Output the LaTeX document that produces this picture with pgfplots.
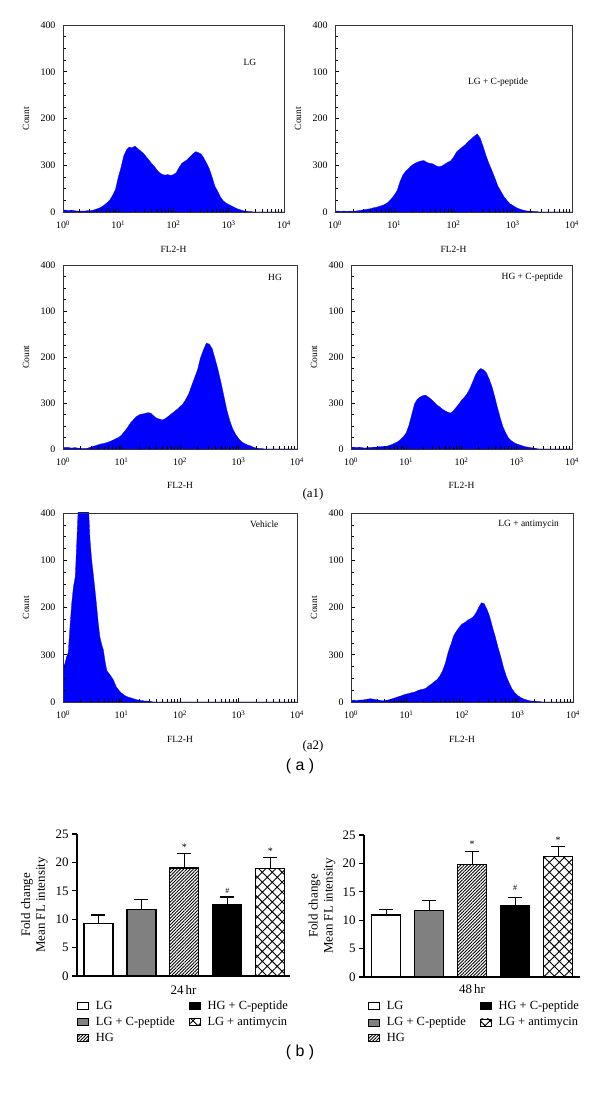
\documentclass[border=0pt]{standalone}
\usepackage{fontspec}
\setmainfont{Liberation Serif}
\newfontfamily\sansf{Liberation Sans}
\usepackage{pgfplots}
\pgfplotsset{compat=1.18}
\usepackage{pgfplotstable}
\usetikzlibrary{patterns.meta}
\definecolor{fcsblue}{RGB}{0,0,255}

% ---------------- histogram data (x = log10 FL2-H, y = count) ----------------
\pgfplotstableread{
x y
0 4
0.05 4
0.1 3
0.15 4
0.2 3
0.25 2
0.3 2
0.35 2
0.4 2
0.45 3
0.5 3
0.55 4
0.6 6
0.65 8
0.7 11
0.75 15
0.8 20
0.85 26
0.9 36
0.95 48
1.0 74
1.05 95
1.1 120
1.15 133
1.2 139
1.25 137
1.3 141
1.35 136
1.4 131
1.45 126
1.5 119
1.55 112
1.6 104
1.65 98
1.7 90
1.75 84
1.8 80
1.85 79
1.9 80
1.95 78
2.0 80
2.05 84
2.1 95
2.15 104
2.2 108
2.25 112
2.3 118
2.35 124
2.4 129
2.45 127
2.5 124
2.55 115
2.6 104
2.65 92
2.7 74
2.75 55
2.8 44
2.85 32
2.9 24
2.95 19
3.0 16
3.05 13
3.1 10
3.15 7
3.2 5
3.25 3
3.3 2
3.35 1
3.4 1
3.45 0
4 0
}\histLG

\pgfplotstableread{
x y
0 2
0.05 2
0.1 1
0.15 2
0.2 1
0.25 2
0.3 1
0.35 2
0.4 3
0.45 4
0.5 5
0.55 6
0.6 7
0.65 9
0.7 10
0.75 12
0.8 14
0.85 17
0.9 21
0.95 28
1.0 36
1.05 46
1.1 66
1.15 80
1.2 88
1.25 94
1.3 100
1.35 104
1.4 107
1.45 109
1.5 110
1.55 106
1.6 104
1.65 103
1.7 99
1.75 97
1.8 98
1.85 102
1.9 106
1.95 109
2.0 117
2.05 128
2.1 134
2.15 139
2.2 144
2.25 151
2.3 156
2.35 162
2.4 167
2.45 158
2.5 140
2.55 120
2.6 103
2.65 88
2.7 72
2.75 55
2.8 44
2.85 33
2.9 25
2.95 18
3.0 14
3.05 10
3.1 7
3.15 5
3.2 3
3.25 2
3.3 2
3.35 1
3.4 1
3.45 0
4 0
}\histLGC

\pgfplotstableread{
x y
0 3
0.05 3
0.1 3
0.15 2
0.2 3
0.25 2
0.3 1
0.35 1
0.4 1
0.45 3
0.5 5
0.55 7
0.6 9
0.65 11
0.7 12
0.75 14
0.8 16
0.85 19
0.9 22
0.95 25
1.0 30
1.05 38
1.1 46
1.15 56
1.2 63
1.25 70
1.3 74
1.35 76
1.4 77
1.45 79
1.5 78
1.55 72
1.6 67
1.65 65
1.7 63
1.75 66
1.8 71
1.85 76
1.9 81
1.95 86
2.0 92
2.05 98
2.1 108
2.15 120
2.2 138
2.25 155
2.3 172
2.35 198
2.4 215
2.45 230
2.5 228
2.55 218
2.6 196
2.65 172
2.7 145
2.75 115
2.8 85
2.85 62
2.9 44
2.95 32
3.0 23
3.05 16
3.1 12
3.15 9
3.2 7
3.25 4
3.3 2
3.35 1
3.4 1
3.45 0
4 0
}\histHG

\pgfplotstableread{
x y
0 4
0.05 4
0.1 3
0.15 4
0.2 3
0.25 2
0.3 3
0.35 3
0.4 4
0.45 4
0.5 5
0.55 5
0.6 6
0.65 6
0.7 8
0.75 10
0.8 13
0.85 16
0.9 21
0.95 27
1.0 35
1.05 52
1.1 75
1.15 98
1.2 108
1.25 113
1.3 116
1.35 117
1.4 113
1.45 108
1.5 102
1.55 96
1.6 92
1.65 87
1.7 83
1.75 80
1.8 78
1.85 82
1.9 90
1.95 97
2.0 106
2.05 112
2.1 120
2.15 131
2.2 145
2.25 160
2.3 170
2.35 175
2.4 172
2.45 166
2.5 152
2.55 136
2.6 114
2.65 90
2.7 68
2.75 48
2.8 35
2.85 24
2.9 18
2.95 14
3.0 11
3.05 9
3.1 7
3.15 5
3.2 4
3.25 3
3.3 2
3.35 1
3.4 0
4 0
}\histHGC

\pgfplotstableread{
x y
0 75
0.03 80
0.06 95
0.09 105
0.12 160
0.15 210
0.18 245
0.21 265
0.24 350
0.27 440
0.3 450
0.35 450
0.4 450
0.43 430
0.46 346
0.49 300
0.51 279
0.54 245
0.57 209
0.6 170
0.63 138
0.66 122
0.69 110
0.72 85
0.75 66
0.8 58
0.86 47
0.91 32
0.96 24
1.0 19
1.05 14
1.1 11
1.15 9
1.2 7
1.25 5
1.3 4
1.35 3
1.4 2
1.45 2
1.5 1
1.55 0
4 0
}\histVeh

\pgfplotstableread{
x y
0 3
0.05 4
0.1 3
0.15 4
0.2 4
0.25 5
0.3 6
0.35 7
0.4 6
0.45 5
0.5 4
0.55 3
0.6 3
0.65 4
0.7 5
0.75 7
0.8 9
0.85 11
0.9 13
0.95 15
1.0 17
1.05 18
1.1 20
1.15 21
1.2 24
1.25 26
1.3 27
1.35 29
1.4 34
1.45 38
1.5 43
1.55 47
1.6 55
1.65 66
1.7 82
1.75 105
1.8 122
1.85 140
1.9 150
1.95 158
2.0 165
2.05 168
2.1 173
2.15 176
2.2 180
2.25 188
2.3 200
2.35 210
2.4 208
2.45 196
2.5 180
2.55 158
2.6 138
2.65 115
2.7 95
2.75 72
2.8 54
2.85 40
2.9 28
2.95 20
3.0 14
3.05 10
3.1 7
3.15 5
3.2 3
3.25 2
3.3 2
3.35 1
3.4 1
3.45 0
4 0
}\histAnti

\pgfplotsset{
  histo/.style={
    scale only axis, anchor=south west,
    xmin=0, xmax=4, ymin=0, ymax=400,
    xtick={0,1,2,3,4},
    xticklabels={10\textsuperscript{0},10\textsuperscript{1},10\textsuperscript{2},10\textsuperscript{3},10\textsuperscript{4}},
    minor xtick={0.301,0.477,0.602,0.699,0.778,0.845,0.903,0.954,
                 1.301,1.477,1.602,1.699,1.778,1.845,1.903,1.954,
                 2.301,2.477,2.602,2.699,2.778,2.845,2.903,2.954,
                 3.301,3.477,3.602,3.699,3.778,3.845,3.903,3.954},
    ytick={0,100,200,300,400},
    yticklabels={0,300,200,100,400},
    minor y tick num=3,
    tick align=inside, tick pos=left,
    major tick length=4bp, minor tick length=2.5bp,
    axis line style={line width=0.9bp, draw=black!80},
    tick style={black, line width=0.6bp},
    minor tick style={black, line width=0.5bp},
    ticklabel style={font=\fontsize{10}{11}\selectfont},
    xticklabel style={yshift=-5bp},
    yticklabel style={xshift=-4bp},
    label style={font=\fontsize{9.5}{11}\selectfont},
    xlabel={FL2-H}, ylabel={Count},
    xlabel style={at={(axis description cs:0.5,-0.2)}, anchor=center},
    axis on top,
  },
  hfill/.style={draw=fcsblue, fill=fcsblue, line width=0.3bp},
  bars/.style={
    scale only axis, anchor=south west, ybar,
    ymin=0, ymax=25, ytick={0,5,...,25}, xtick=\empty,
    axis x line*=bottom, axis y line*=left,
    axis line style={-, line width=1.2bp},
    tick align=outside, major tick length=5bp,
    tick style={line width=1.2bp, black},
    yticklabel style={font=\fontsize{13}{15}\selectfont},
    /pgf/number format/assume math mode=true,
    label style={font=\fontsize{13}{15}\selectfont},
    ylabel style={align=center, anchor=center},
    bar width=0.675,
    error bars/y dir=plus, error bars/y explicit,
    error bars/error bar style={line width=1.2bp, black},
    error bars/error mark options={rotate=90, mark size=7bp, line width=1.2bp, black},
    legend columns=3, transpose legend, legend cell align=left,
    legend image code/.code={\draw[#1, line width=0.7bp] (0bp,-3.5bp) rectangle (11bp,3.5bp);},
    legend style={draw=none, fill=none, inner sep=0pt, anchor=north west,
      font=\fontsize{12.5}{14}\selectfont, row sep=2bp,
      /tikz/every odd column/.append style={column sep=5bp},
      /tikz/every even column/.append style={column sep=12bp}},
  },
  b1/.style={draw=black, fill=white, line width=1.2bp, bar shift=0pt},
  b2/.style={draw=black, fill=black!50, line width=1.2bp, bar shift=0pt},
  b3/.style={draw=black, line width=1.2bp, bar shift=0pt, pattern={Lines[angle=45,distance=2.3bp,line width=0.8bp]}},
  b4/.style={draw=black, fill=black, line width=1.2bp, bar shift=0pt},
  b5/.style={draw=black, line width=1.2bp, bar shift=0pt, pattern={Hatch[angle=45,distance=7bp,line width=0.9bp]}},
}

\begin{document}
\begin{tikzpicture}
% ---- row 1
\begin{axis}[histo, at={(63bp,883bp)}, width=221bp, height=187bp,
  ylabel style={at={(axis description cs:-0.167,0.5)}, anchor=center}]
\addplot[hfill] table {\histLG} \closedcycle;
\node[font=\fontsize{9.5}{11}\selectfont] at (axis description cs:0.846,0.80) {LG};
\end{axis}
\begin{axis}[histo, at={(335bp,883bp)}, width=237bp, height=187bp,
  ylabel style={at={(axis description cs:-0.156,0.5)}, anchor=center}]
\addplot[hfill] table {\histLGC} \closedcycle;
\node[font=\fontsize{9.5}{11}\selectfont] at (axis description cs:0.688,0.695) {LG + C-peptide};
\end{axis}
% ---- row 2
\begin{axis}[histo, at={(63bp,646bp)}, width=234bp, height=184bp,
  ylabel style={at={(axis description cs:-0.158,0.5)}, anchor=center}]
\addplot[hfill] table {\histHG} \closedcycle;
\node[font=\fontsize{9.5}{11}\selectfont] at (axis description cs:0.906,0.93) {HG};
\end{axis}
\begin{axis}[histo, at={(351bp,646bp)}, width=221bp, height=184bp,
  ylabel style={at={(axis description cs:-0.167,0.5)}, anchor=center}]
\addplot[hfill] table {\histHGC} \closedcycle;
\node[font=\fontsize{9.5}{11}\selectfont] at (axis description cs:0.82,0.935) {HG + C-peptide};
\end{axis}
% ---- row 3
\begin{axis}[histo, at={(63bp,393bp)}, width=234bp, height=189bp,
  ylabel style={at={(axis description cs:-0.158,0.5)}, anchor=center}]
\addplot[hfill] table {\histVeh} \closedcycle;
\node[font=\fontsize{9.5}{11}\selectfont] at (axis description cs:0.86,0.94) {Vehicle};
\end{axis}
\begin{axis}[histo, at={(351bp,393bp)}, width=222bp, height=189bp,
  ylabel style={at={(axis description cs:-0.167,0.5)}, anchor=center}]
\addplot[hfill] table {\histAnti} \closedcycle;
\node[font=\fontsize{9.5}{11}\selectfont] at (axis description cs:0.80,0.94) {LG + antimycin};
\end{axis}

\node[font=\fontsize{13}{15}\selectfont] at (313bp,601bp) {(a1)};
\node[font=\fontsize{13}{15}\selectfont] at (313bp,349bp) {(a2)};
\node[font=\sansf\fontsize{16}{18}\selectfont] at (300bp,329bp) {( a )};

% ---- bar chart 24 hr
\begin{axis}[bars, at={(77bp,119bp)}, width=213bp, height=142bp,
  xmin=-0.5, xmax=4.46,
  xlabel={24\,hr}, xlabel style={at={(axis description cs:0.5,-0.1)}, anchor=center},
  ylabel={Fold change\\Mean FL intensity},
  ylabel style={at={(axis description cs:-0.2,0.5)}},
  legend style={at={(axis description cs:0,-0.16)}}]
\addplot[b1] coordinates {(0,9.3) +- (0,1.45)};
\addlegendentry{LG}
\addplot[b2] coordinates {(1,11.65) +- (0,1.75)};
\addlegendentry{LG + C-peptide}
\addplot[b3] coordinates {(2,19.0) +- (0,2.5)};
\addlegendentry{HG}
\addplot[b4] coordinates {(3,12.55) +- (0,1.35)};
\addlegendentry{HG + C-peptide}
\addplot[b5] coordinates {(4,18.9) +- (0,2.0)};
\addlegendentry{LG + antimycin}
\node[font=\fontsize{10}{11}\selectfont] at (axis cs:2,22.6) {*};
\node[font=\fontsize{8}{9}\selectfont] at (axis cs:3,14.9) {\#};
\node[font=\fontsize{10}{11}\selectfont] at (axis cs:4,21.9) {*};
\end{axis}

% ---- bar chart 48 hr
\begin{axis}[bars, at={(364bp,118bp)}, width=216bp, height=142bp,
  xmin=-0.52, xmax=4.51,
  xlabel={48\,hr}, xlabel style={at={(axis description cs:0.5,-0.088)}, anchor=center},
  ylabel={Fold change\\Mean FL intensity},
  ylabel style={at={(axis description cs:-0.194,0.5)}},
  legend style={at={(axis description cs:0.0185,-0.155)}}]
\addplot[b1] coordinates {(0,10.9) +- (0,0.95)};
\addlegendentry{LG}
\addplot[b2] coordinates {(1,11.7) +- (0,1.75)};
\addlegendentry{LG + C-peptide}
\addplot[b3] coordinates {(2,19.85) +- (0,2.3)};
\addlegendentry{HG}
\addplot[b4] coordinates {(3,12.55) +- (0,1.5)};
\addlegendentry{HG + C-peptide}
\addplot[b5] coordinates {(4,21.25) +- (0,1.7)};
\addlegendentry{LG + antimycin}
\node[font=\fontsize{10}{11}\selectfont] at (axis cs:2,23.3) {*};
\node[font=\fontsize{8}{9}\selectfont] at (axis cs:3,15.7) {\#};
\node[font=\fontsize{10}{11}\selectfont] at (axis cs:4,24.1) {*};
\end{axis}

\node[font=\sansf\fontsize{16}{18}\selectfont] at (300bp,43bp) {( b )};

\pgfresetboundingbox
\path[use as bounding box] (0bp,0bp) rectangle (600bp,1095bp);
\end{tikzpicture}
\end{document}
